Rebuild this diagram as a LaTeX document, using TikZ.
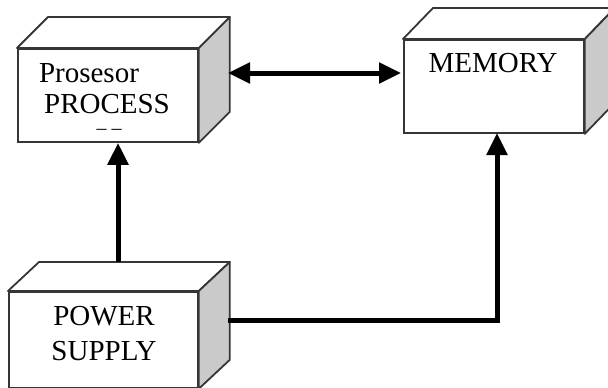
\documentclass[tikz,border=0pt]{standalone}
\usepackage{fontspec}
\setmainfont{Liberation Serif}
\usetikzlibrary{arrows.meta,calc}
\definecolor{edgegray}{HTML}{363636}
\definecolor{sidegray}{HTML}{CACACA}
\tikzset{
  front/.style={draw=edgegray, line width=1.8pt, fill=white, anchor=north west, inner sep=0pt},
  face/.style={draw=edgegray, line width=1.8pt, line join=round},
  label/.style={font=\fontsize{29}{31}\selectfont, inner sep=0pt, text=black},
  link/.style={line width=5pt, black, -{Triangle[width=20pt,length=22pt]}},
  dlink/.style={line width=5pt, black, {Triangle[width=20pt,length=22pt]}-{Triangle[width=20pt,length=22pt]}}
}
% draws top and right faces of a box whose front face is node #1, depth (#2,#3)
\newcommand{\cubefaces}[3]{%
  \draw[face, fill=white] (#1.north west) -- ++(#2,-#3) -- ($(#1.north east)+(#2,-#3)$) -- (#1.north east) -- cycle;
  \draw[face, fill=sidegray] (#1.north east) -- ++(#2,-#3) -- ($(#1.south east)+(#2,-#3)$) -- (#1.south east) -- cycle;
}
\begin{document}
\begin{tikzpicture}[x=1pt, y=-1pt]
\useasboundingbox (0,0) rectangle (608,388);

% processor box
\node[front, minimum width=180pt, minimum height=93pt] (proc) at (17,48) {};
\cubefaces{proc}{31}{31}
\node[label] (proct1) at (89,73) {Prosesor};
\node[label] (proct2) at (107,104) {PROCESS};
\node[label, font=\fontsize{20}{22}\selectfont] (proct3) at (109,132) {– –};

% memory box
\node[front, minimum width=180pt, minimum height=93pt] (mem) at (403,39) {};
\cubefaces{mem}{30}{31}
\node[label] (memt) at (493,63) {MEMORY};

% power supply box
\node[front, minimum width=189pt, minimum height=96pt] (pow) at (8,291) {};
\cubefaces{pow}{31}{29}
\node[label] (powt1) at (104,316) {POWER};
\node[label] (powt2) at (104,351) {SUPPLY};

% connection points
\coordinate (powtop) at (118,262);
\coordinate (powright) at (228,320);
\coordinate (procleft) at (228,73);
\coordinate (memleft) at (401,73);
\coordinate (membottom) at (497,133);

% connectors
\draw[dlink] (procleft) -- (memleft);
\draw[link] (powtop) -- (powtop |- proc.south);
\draw[link] (powright) -| (membottom);
\end{tikzpicture}
\end{document}
